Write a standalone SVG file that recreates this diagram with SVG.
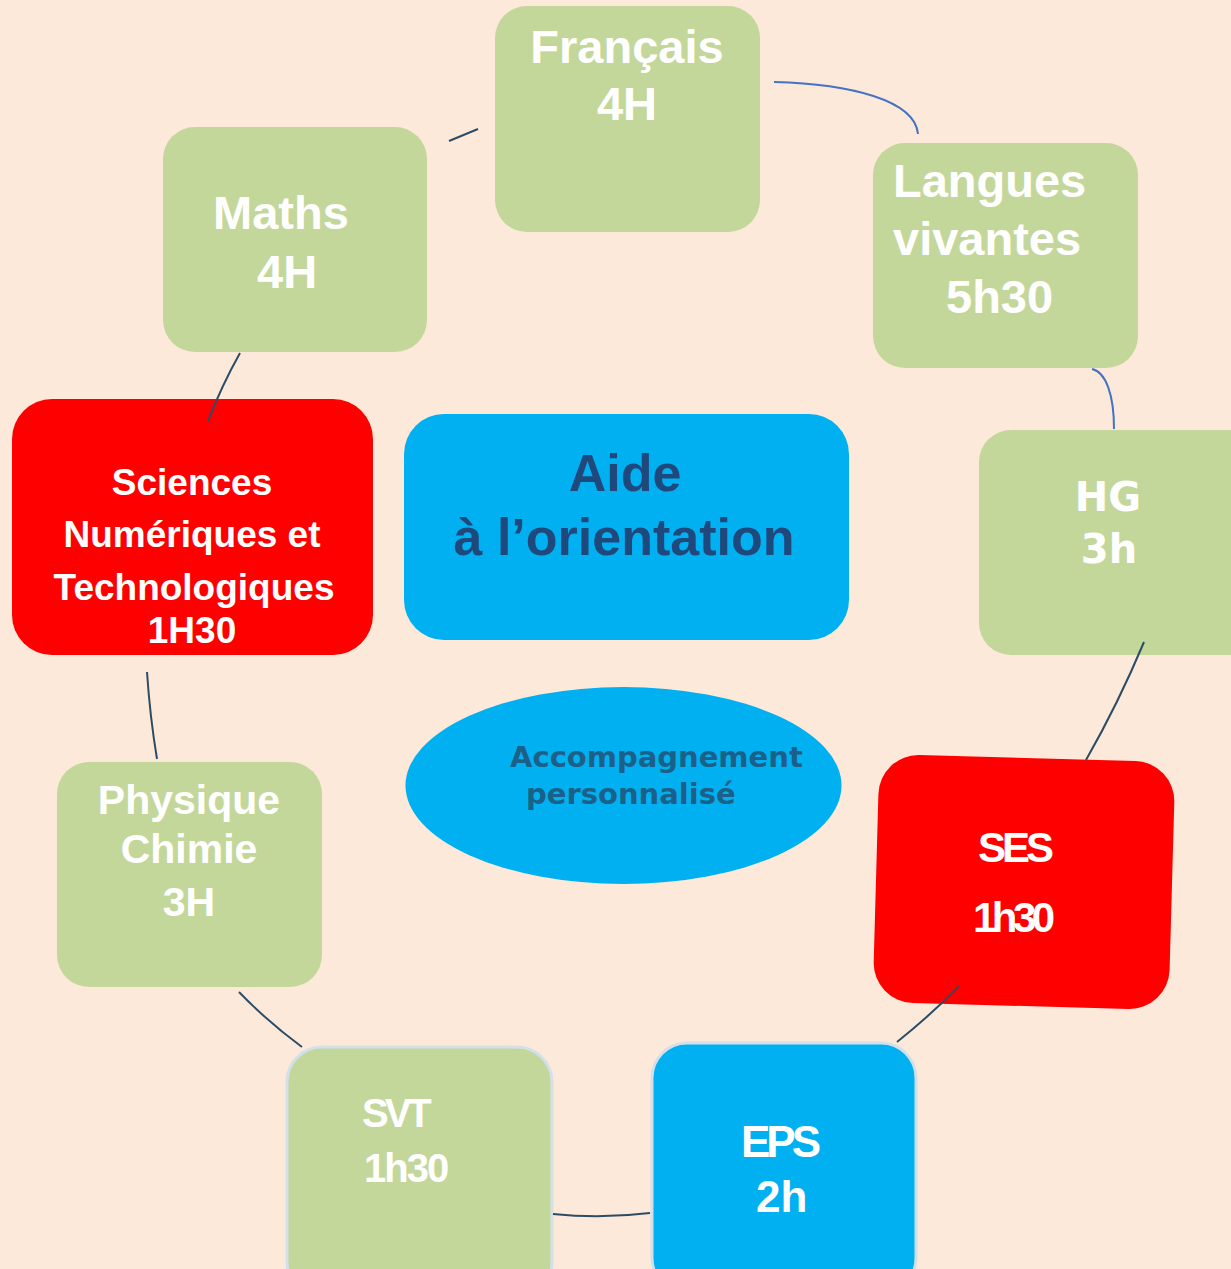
<svg xmlns="http://www.w3.org/2000/svg" width="1231" height="1269" viewBox="0 0 1231 1269">
<style>
.green{fill:#C4D79B}
.red{fill:#FF0000}
.blue{fill:#00B0F0}
.bord{stroke:#D3E0EA;stroke-width:3}
.w{fill:#FFFFFF;font-family:"Liberation Sans",Arial,sans-serif;font-weight:bold}
.t{fill:#FFFFFF;font-family:"DejaVu Sans",Verdana,sans-serif;font-weight:bold}
.c{fill:none;stroke-width:2}
.dk{stroke:#2B4C66}
.bl{stroke:#4472C4}
</style>
<rect x="0" y="0" width="1231" height="1269" fill="#FDE9DA"/>
<g id="francais">
<rect class="green" x="495" y="6" width="265" height="226" rx="32"/>
<text class="w" font-size="47" text-anchor="middle" x="627" y="63">Français</text>
<text class="w" font-size="47" text-anchor="middle" x="627" y="120">4H</text>
</g>
<g id="maths">
<rect class="green" x="163" y="127" width="264" height="225" rx="32"/>
<text class="w" font-size="47" x="213" y="229">Maths</text>
<text class="w" font-size="47" x="257" y="288">4H</text>
</g>
<g id="langues">
<rect class="green" x="873" y="143" width="265" height="225" rx="32"/>
<text class="w" font-size="47" x="893" y="197">Langues</text>
<text class="w" font-size="47" x="893" y="255">vivantes</text>
<text class="w" font-size="47" x="946" y="313">5h30</text>
</g>
<g id="hg">
<rect class="green" x="979" y="430" width="290" height="225" rx="32"/>
<text class="t" font-size="40" text-anchor="middle" x="1108" y="511">HG</text>
<text class="t" font-size="40" text-anchor="middle" x="1109" y="563">3h</text>
</g>
<g id="snt">
<rect class="red" x="12" y="399" width="361" height="256" rx="40"/>
<text class="w" font-size="37" text-anchor="middle" x="192" y="495">Sciences</text>
<text class="w" font-size="37" text-anchor="middle" x="192" y="547">Numériques et</text>
<text class="w" font-size="37" text-anchor="middle" x="194" y="600">Technologiques</text>
<text class="w" font-size="37" text-anchor="middle" x="192" y="643">1H30</text>
</g>
<g id="aide">
<rect class="blue" x="404" y="414" width="445" height="226" rx="40"/>
<text font-family="Liberation Sans,Arial,sans-serif" font-weight="bold" fill="#1F497D" font-size="52" text-anchor="middle" x="625" y="491">Aide</text>
<text font-family="Liberation Sans,Arial,sans-serif" font-weight="bold" fill="#1F497D" font-size="52" text-anchor="middle" x="624" y="555">à l’orientation</text>
</g>
<g id="accompagnement">
<ellipse class="blue" cx="623.5" cy="785.5" rx="218" ry="98.5"/>
<text font-family="DejaVu Sans,Verdana,sans-serif" font-weight="bold" fill="#1B6088" font-size="29" x="510" y="767">Accompagnement</text>
<text font-family="DejaVu Sans,Verdana,sans-serif" font-weight="bold" fill="#1B6088" font-size="29" x="526" y="804">personnalisé</text>
</g>
<g id="physique">
<rect class="green" x="57" y="762" width="265" height="225" rx="32"/>
<text class="w" font-size="41" text-anchor="middle" x="189" y="814">Physique</text>
<text class="w" font-size="41" text-anchor="middle" x="189" y="863">Chimie</text>
<text class="w" font-size="41" text-anchor="middle" x="189" y="916">3H</text>
</g>
<g id="ses">
<rect class="red" x="876" y="758" width="296" height="248" rx="40" transform="rotate(1.6 1024 882)"/>
<text class="w" font-size="42" letter-spacing="-4" x="978" y="862">SES</text>
<text class="w" font-size="42" letter-spacing="-4.5" x="973" y="932">1h30</text>
</g>
<g id="svt">
<rect class="green bord" x="287" y="1047" width="265" height="250" rx="35"/>
<text class="w" font-size="40" letter-spacing="-4" x="362" y="1127">SVT</text>
<text class="w" font-size="40" letter-spacing="-2" x="364" y="1182">1h30</text>
</g>
<g id="eps">
<rect class="blue bord" x="652" y="1043" width="264" height="250" rx="35"/>
<text class="w" font-size="44" letter-spacing="-4" x="741" y="1157">EPS</text>
<text class="w" font-size="44" x="756" y="1212">2h</text>
</g>
<g id="connectors">
<path class="c dk" d="M449,141 L478,129"/>
<path class="c bl" d="M774,82 C850,84 915,100 918,134"/>
<path class="c bl" d="M1092,369 C1106,372 1114,395 1114,429"/>
<path class="c dk" d="M1144,642 Q1118,704 1086,760"/>
<path class="c dk" d="M959,986 Q932,1014 897,1042"/>
<path class="c dk" d="M553,1214 Q601,1219 650,1213"/>
<path class="c dk" d="M239,992 Q268,1022 302,1047"/>
<path class="c dk" d="M147,672 Q150,717 157,759"/>
<path class="c dk" d="M240,353 Q222,385 208,421"/>
</g>
</svg>
